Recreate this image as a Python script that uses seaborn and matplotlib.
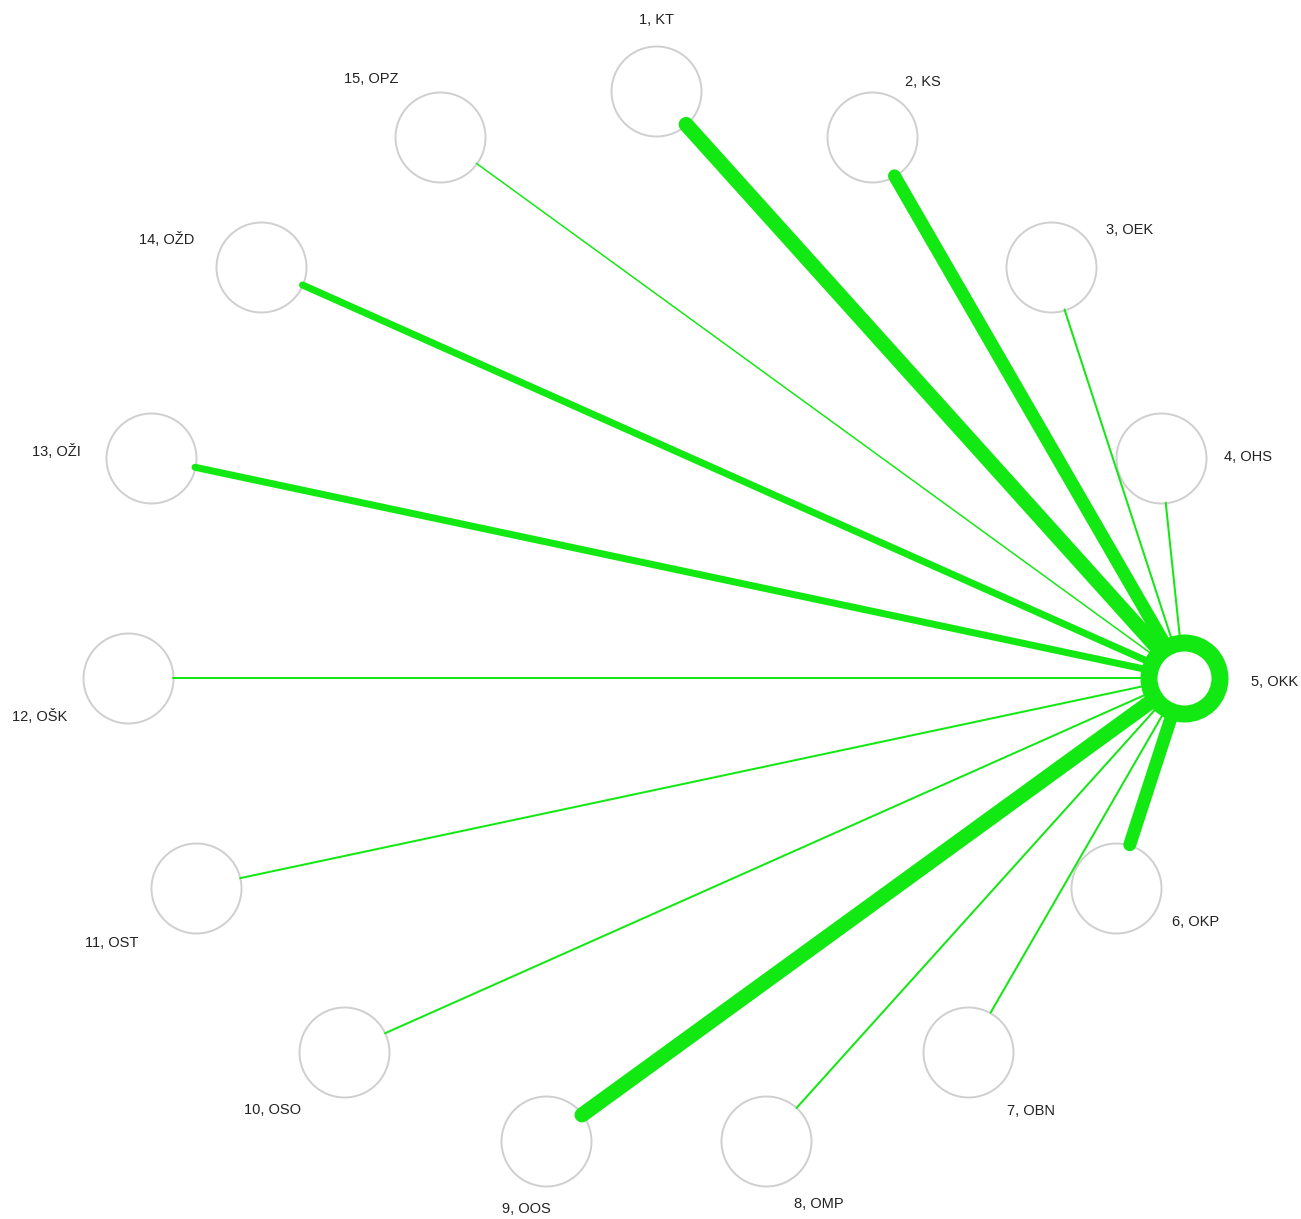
import numpy as np
import pandas as pd
import seaborn as sns
import matplotlib.pyplot as plt

# Knoten (im Uhrzeigersinn, Start oben)
knoten = ["1, KT", "2, KS", "3, OEK", "4, OHS", "5, OKK", "6, OKP", "7, OBN",
          "8, OMP", "9, OOS", "10, OSO", "11, OST", "12, OŠK", "13, OŽI",
          "14, OŽD", "15, OPZ"]
zentrum = "5, OKK"

# Kantengewichte (Verbindung zu 5, OKK)
ziel = ["1, KT", "2, KS", "3, OEK", "4, OHS", "6, OKP", "7, OBN", "8, OMP",
        "9, OOS", "10, OSO", "11, OST", "12, OŠK", "13, OŽI", "14, OŽD", "15, OPZ"]
gewicht = [15, 13, 2, 2, 13, 2, 2, 15, 2, 2, 2, 7, 7, 1.5]

# Label-Versatz in Pixel (dx, dy nach unten)
label_dx = [0, 51, 79, 87, 90, 80, 63, 52, -19, -71, -84, -88, -95, -95, -69]
label_dy = [-71, -55, -37, -1, 4, 35, 59, 63, 68, 58, 55, 39, -6, -27, -58]

PX = 531.0            # Pixel pro Dateneinheit
R_KNOTEN = 45 / PX
GRUEN = "#12e812"

sns.set_theme(style="white")
plt.rcParams["font.family"] = ["Liberation Sans", "DejaVu Sans"]

# Kreislayout
n = len(knoten)
winkel = np.deg2rad(90 - np.arange(n) * 360 / n)
df = pd.DataFrame({"name": knoten, "x": np.cos(winkel), "y": np.sin(winkel)})
df = df.set_index("name")

fig = plt.figure(figsize=(13.01, 12.19), dpi=100)
ax = fig.add_axes([0, 0, 1, 1])

# Kanten
hx, hy = df.loc[zentrum, "x"], df.loc[zentrum, "y"]
for name, w in zip(ziel, gewicht):
    tx, ty = df.loc[name, "x"], df.loc[name, "y"]
    d = np.hypot(tx - hx, ty - hy)
    ex = tx - (tx - hx) / d * R_KNOTEN
    ey = ty - (ty - hy) / d * R_KNOTEN
    ax.plot([hx, ex], [hy, ey], color=GRUEN, lw=w * 0.72,
            solid_capstyle="round", zorder=3)

# Knoten
andere = df.drop(zentrum).reset_index()
s_knoten = (2 * 45 * 0.72) ** 2
sns.scatterplot(data=andere, x="x", y="y", s=s_knoten, color="white",
                edgecolor="#cfcfcf", linewidth=1.4, ax=ax, zorder=2, legend=False)
sns.scatterplot(x=[hx], y=[hy], s=(2 * 35.5 * 0.72) ** 2, color="white",
                edgecolor=GRUEN, linewidth=17 * 0.72, ax=ax, zorder=4, legend=False)

# Beschriftungen
for i, name in enumerate(knoten):
    lx = df.loc[name, "x"] + label_dx[i] / PX
    ly = df.loc[name, "y"] - label_dy[i] / PX
    ax.text(lx, ly, name, ha="center", va="center", fontsize=10.5,
            color="#222222", zorder=5)

ax.set_xlim(-656 / PX, (1301 - 656) / PX)
ax.set_ylim(-(1219 - 622) / PX, 622 / PX)
ax.set_aspect("equal")
ax.axis("off")

fig.savefig("out.png", dpi=100)
plt.close(fig)
